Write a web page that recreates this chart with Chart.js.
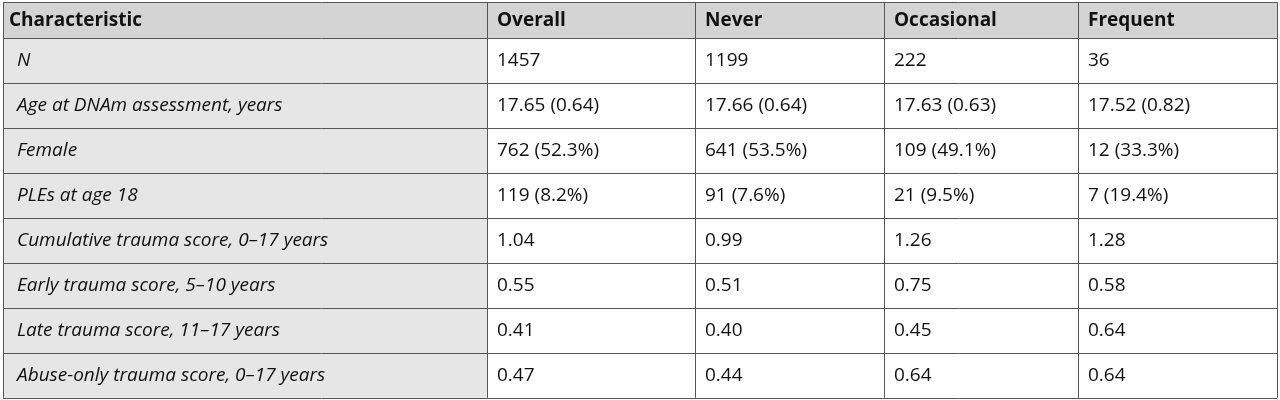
<!DOCTYPE html>
<html>
<head>
<meta charset="utf-8">
<script src="https://cdn.jsdelivr.net/npm/chart.js@4.4.1/dist/chart.umd.min.js"></script>
<style>
  html, body { margin: 0; padding: 0; background: #fff; }
  #wrap { width: 1280px; height: 400px; }
</style>
</head>
<body>
<div id="wrap"><canvas id="tbl"></canvas></div>
<script>
// table content
const columns = ['Characteristic', 'Overall', 'Never', 'Occasional', 'Frequent'];
const characteristics = [
    'N',
    'Age at DNAm assessment, years',
    'Female',
    'PLEs at age 18',
    'Cumulative trauma score, 0\u201317 years',
    'Early trauma score, 5\u201310 years',
    'Late trauma score, 11\u201317 years',
    'Abuse-only trauma score, 0\u201317 years'
];
const overall = ['1457', '17.65 (0.64)', '762 (52.3%)', '119 (8.2%)', '1.04', '0.55', '0.41', '0.47'];
const never = ['1199', '17.66 (0.64)', '641 (53.5%)', '91 (7.6%)', '0.99', '0.51', '0.40', '0.44'];
const occasional = ['222', '17.63 (0.63)', '109 (49.1%)', '21 (9.5%)', '1.26', '0.75', '0.45', '0.64'];
const frequent = ['36', '17.52 (0.82)', '12 (33.3%)', '7 (19.4%)', '1.28', '0.58', '0.64', '0.64'];

// column edges on the x scale, rows on the y scale
const colEdges = [3, 487, 695, 884, 1078, 1277];
const HEADER_TOP = -0.8;
const FONT = '"Open Sans", "Liberation Sans", sans-serif';

const tablePlugin = {
    id: 'tablePlugin',
    afterDraw(chart) {
        const ctx = chart.ctx;
        const x = chart.scales.x, y = chart.scales.y;
        const px = v => x.getPixelForValue(v);
        const py = v => y.getPixelForValue(v);
        const left = px(colEdges[0]), right = px(colEdges[colEdges.length - 1]);
        const top = py(HEADER_TOP), bottom = py(characteristics.length);
        const body = [characteristics, overall, never, occasional, frequent];

        ctx.save();
        ctx.fillStyle = '#d4d4d4';
        ctx.fillRect(left, top, right - left, py(0) - top);
        ctx.fillStyle = '#e6e6e6';
        ctx.fillRect(left, py(0), px(colEdges[1]) - left, bottom - py(0));

        ctx.strokeStyle = '#555';
        ctx.lineWidth = 1;
        ctx.beginPath();
        for (let r = 0; r <= characteristics.length; r++) {
            const yy = Math.round(py(r)) + 0.5;
            ctx.moveTo(left, yy); ctx.lineTo(right, yy);
        }
        ctx.moveTo(left, Math.round(top) + 0.5); ctx.lineTo(right, Math.round(top) + 0.5);
        colEdges.forEach(e => {
            const xx = Math.round(px(e)) + 0.5;
            ctx.moveTo(xx, top); ctx.lineTo(xx, bottom);
        });
        ctx.stroke();

        ctx.fillStyle = '#111';
        ctx.textBaseline = 'middle';
        ctx.font = 'bold 19px ' + FONT;
        columns.forEach((c, i) => {
            ctx.fillText(c, px(colEdges[i]) + (i === 0 ? 6 : 10), py(HEADER_TOP / 2));
        });
        body.forEach((col, i) => {
            ctx.font = (i === 0 ? 'italic ' : '') + '19px ' + FONT;
            col.forEach((txt, r) => {
                ctx.fillText(txt, px(colEdges[i]) + (i === 0 ? 14 : 10), py(r + 0.5));
            });
        });
        ctx.restore();
    }
};

new Chart(document.getElementById('tbl'), {
    type: 'scatter',
    data: { datasets: [{ data: [] }] },
    options: {
        responsive: true,
        maintainAspectRatio: false,
        animation: false,
        layout: { padding: 0 },
        plugins: { legend: { display: false }, tooltip: { enabled: false } },
        scales: {
            x: { type: 'linear', min: 0, max: 1280, display: false },
            y: { type: 'linear', min: -0.85, max: 8.05, reverse: true, display: false }
        }
    },
    plugins: [tablePlugin]
});
</script>
</body>
</html>
